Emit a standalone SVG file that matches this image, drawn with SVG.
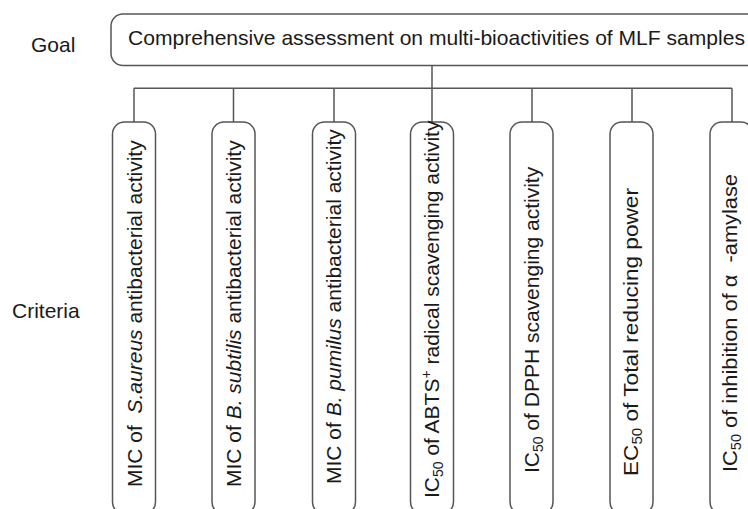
<svg xmlns="http://www.w3.org/2000/svg" width="748" height="509" viewBox="0 0 748 509">
<style>
  .box { fill: #ffffff; stroke: #555555; stroke-width: 1.5; }
  .conn { fill: none; stroke: #555555; stroke-width: 1.5; }
  text { font-family: "Liberation Sans", Arial, sans-serif; fill: #1a1a1a; font-size: 21px; }
  .it { font-style: italic; }
  .sub { font-size: 14px; }
</style>
<rect width="748" height="509" fill="#ffffff"/>
<g id="labels">
  <text x="31" y="51.5" font-size="20.5">Goal</text>
  <text x="12" y="318" font-size="20.5">Criteria</text>
</g>
<g id="connectors">
  <path class="conn" d="M432,65.5 V88.3 M134,88.3 H732 M134,88.3 V122 M233.5,88.3 V122 M334,88.3 V122 M432,88.3 V122 M532,88.3 V122 M632,88.3 V122 M732,88.3 V122"/>
</g>
<g id="goal">
  <rect class="box" x="111" y="14" width="700" height="51.5" rx="12"/>
  <text x="128" y="45" textLength="617" lengthAdjust="spacingAndGlyphs">Comprehensive assessment on multi-bioactivities of MLF samples</text>
</g>
<g id="c1">
  <rect class="box" x="112.5" y="122" width="43" height="392" rx="12"/>
  <text transform="translate(141.5,487) rotate(-90)">MIC of&#160; <tspan class="it">S.aureus</tspan> antibacterial activity</text>
</g>
<g id="c2">
  <rect class="box" x="212" y="122" width="43" height="392" rx="12"/>
  <text transform="translate(241,487) rotate(-90)">MIC of <tspan class="it">B. subtilis</tspan> antibacterial activity</text>
</g>
<g id="c3">
  <rect class="box" x="312.5" y="122" width="43" height="392" rx="12"/>
  <text transform="translate(341,484) rotate(-90)">MIC of <tspan class="it">B. pumilus</tspan> antibacterial activity</text>
</g>
<g id="c4">
  <rect class="box" x="410.5" y="122" width="43" height="392" rx="12"/>
  <text transform="translate(439,498) rotate(-90)">IC<tspan class="sub" dy="4">50</tspan><tspan dy="-4"> of ABTS</tspan><tspan class="sub" dy="-8">+</tspan><tspan dy="8"> radical scavenging activity</tspan></text>
</g>
<g id="c5">
  <rect class="box" x="510" y="122" width="43" height="392" rx="12"/>
  <text transform="translate(538.5,473) rotate(-90)">IC<tspan class="sub" dy="4">50</tspan><tspan dy="-4"> of DPPH scavenging activity</tspan></text>
</g>
<g id="c6">
  <rect class="box" x="610" y="122" width="43" height="392" rx="12"/>
  <text transform="translate(638,476) rotate(-90)" textLength="288" lengthAdjust="spacingAndGlyphs">EC<tspan class="sub" dy="4">50</tspan><tspan dy="-4"> of Total reducing power</tspan></text>
</g>
<g id="c7">
  <rect class="box" x="710" y="122" width="43" height="392" rx="12"/>
  <text transform="translate(737,472) rotate(-90)" textLength="298" lengthAdjust="spacingAndGlyphs">IC<tspan class="sub" dy="4">50</tspan><tspan dy="-4"> of inhibition of α&#160; -amylase</tspan></text>
</g>
</svg>
